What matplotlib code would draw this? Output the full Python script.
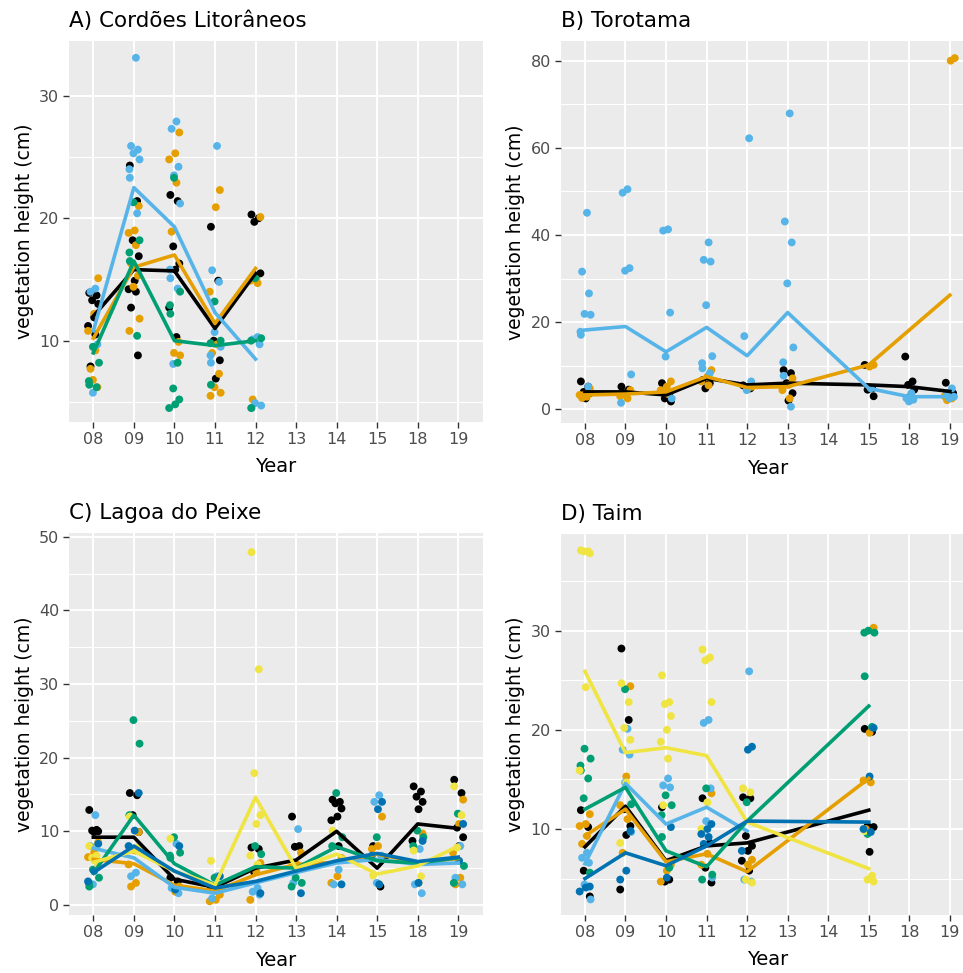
import matplotlib
matplotlib.use("Agg")
import matplotlib.pyplot as plt
import numpy as np

plt.rcParams['font.family'] = ['DejaVu Sans']

years = ["08", "09", "10", "11", "12", "13", "14", "15", "18", "19"]

# Okabe-Ito colours used for the groups
black, orange, skyblue, green, yellow, blue = "#000000", "#E69F00", "#56B4E9", "#009E73", "#F0E442", "#0072B2"

# ---------------- A) Cordões Litorâneos ----------------
a_black = {"08": [13.9, 13.7, 13.3, 13.0, 11.9, 11.2, 10.5, 7.9],
           "09": [24.3, 21.4, 18.2, 16.9, 14.9, 14.2, 14.0, 12.7, 8.8],
           "10": [21.9, 21.4, 17.7, 16.3, 15.8, 12.7, 10.3],
           "11": [19.3, 14.9, 10.0, 8.4, 6.9],
           "12": [20.3, 20.0, 19.7, 15.5, 15.3]}
a_orange = {"08": [15.1, 12.2, 10.8, 9.2, 7.7, 6.2, 6.8],
            "09": [21.0, 19.0, 18.8, 17.8, 16.3, 15.3, 14.4, 11.8, 10.8],
            "10": [27.0, 25.3, 24.8, 22.9, 18.9, 9.9, 9.0, 8.8],
            "11": [22.3, 20.9, 14.0, 9.7, 9.0, 7.3, 6.2, 5.75, 5.5],
            "12": [20.1, 15.0, 14.9, 14.7, 5.2]}
a_skyblue = {"08": [14.25, 14.0, 9.7, 5.75],
             "09": [33.1, 25.9, 25.6, 25.3, 24.8, 24.0, 23.3, 20.4],
             "10": [27.9, 27.3, 24.2, 23.5, 21.2, 15.8, 15.1, 14.25, 8.1],
             "11": [25.9, 15.75, 14.8, 10.7, 9.5, 8.8, 8.2],
             "12": [10.3, 10.1, 9.7, 4.9, 4.7, 4.5]}
a_green = {"08": [9.5, 8.2, 6.7, 6.4, 6.2],
           "09": [21.3, 18.2, 17.2, 16.5, 10.4],
           "10": [23.3, 14.0, 12.9, 12.2, 8.2, 6.1, 5.2, 4.8, 4.5],
           "11": [13.2, 10.0, 9.8, 6.4],
           "12": [15.1, 10.2, 10.0, 4.5]}
a_line_years = ["08", "09", "10", "11", "12"]
a_black_mean = [12.0, 15.8, 15.7, 11.0, 15.5]
a_orange_mean = [10.2, 16.0, 17.0, 11.4, 15.9]
a_skyblue_mean = [10.8, 22.5, 19.3, 12.3, 8.5]
a_green_mean = [9.0, 16.5, 10.0, 9.6, 10.0]

# ---------------- B) Torotama ----------------
b_black = {"08": [6.4, 5.2, 4.0, 3.7, 2.5],
           "09": [5.2, 4.5, 3.7],
           "10": [6.0, 3.7, 2.5, 1.8],
           "11": [6.7, 6.0, 4.8],
           "12": [5.5, 4.8],
           "13": [9.0, 8.3, 6.0, 3.7, 2.0],
           "15": [10.2, 4.8, 4.5, 3.0],
           "18": [12.1, 6.4, 5.6, 4.5, 2.9],
           "19": [6.1, 3.7]}
b_orange = {"08": [4.8, 3.6, 3.3, 2.9, 2.6],
            "09": [4.4, 3.3, 3.0, 2.5],
            "10": [6.4, 5.2, 4.4, 3.5],
            "11": [9.0, 7.5, 6.4, 5.5],
            "12": [5.2, 4.8],
            "13": [7.1, 5.6, 4.4, 2.5],
            "15": [10.2, 9.8],
            "19": [80.6, 80.0, 3.0, 2.5, 2.1]}
b_skyblue = {"08": [45.1, 31.6, 26.6, 21.9, 21.7, 17.8, 17.1, 5.2],
             "09": [50.5, 49.7, 32.4, 31.8, 8.0, 1.5],
             "10": [41.3, 41.0, 22.2, 12.1, 2.5],
             "11": [38.3, 34.3, 33.9, 23.9, 12.2, 10.6, 9.4, 8.3],
             "12": [62.2, 16.8, 6.4, 4.4],
             "13": [67.9, 43.1, 38.3, 28.9, 14.2, 10.8, 7.7, 0.6],
             "15": [4.8],
             "18": [3.7, 2.5, 2.2, 1.8],
             "19": [4.8, 3.7, 2.9, 2.5]}
b_black_years = ["08", "09", "10", "11", "12", "13", "15", "18", "19"]
b_black_mean = [4.0, 4.0, 3.3, 7.1, 5.6, 6.0, 5.6, 5.2, 4.1]
b_orange_years = ["08", "09", "10", "11", "12", "13", "15", "19"]
b_orange_mean = [3.3, 3.5, 4.0, 7.5, 5.0, 5.2, 10.2, 26.2]
b_skyblue_years = ["08", "09", "10", "11", "12", "13", "15", "18", "19"]
b_skyblue_mean = [18.2, 19.0, 13.2, 18.8, 12.3, 22.2, 4.8, 2.9, 2.9]

# ---------------- C) Lagoa do Peixe ----------------
c_black = {"08": [12.9, 10.2, 10.1, 10.0, 9.9],
           "09": [15.2, 14.9, 12.2, 9.9],
           "10": [3.7, 3.2],
           "11": [2.2],
           "12": [7.8, 7.6, 4.4],
           "13": [12.0, 8.0, 7.9],
           "14": [14.3, 14.0, 13.8, 13.1, 12.0, 11.5, 8.0],
           "15": [8.0, 2.5],
           "18": [16.1, 15.4, 14.7, 14.0, 13.0, 8.7],
           "19": [17.0, 15.2, 10.5, 9.2, 8.0]}
c_orange = {"08": [8.5, 7.1, 6.5],
            "09": [9.9, 7.4, 5.5, 3.0, 2.5],
            "10": [2.5, 1.8],
            "11": [1.4, 0.7, 0.5],
            "12": [5.7, 4.5, 0.7],
            "13": [7.1, 5.5],
            "14": [6.4, 3.9, 3.0],
            "15": [12.0, 8.0, 7.6, 2.8],
            "18": [9.7, 3.0],
            "19": [14.3, 11.0, 7.1, 3.7, 2.8]}
c_skyblue = {"08": [12.2, 8.0, 5.1, 2.8],
             "09": [4.4, 3.9],
             "10": [8.3, 2.3, 1.6],
             "11": [3.9, 0.9],
             "12": [2.3, 1.8, 1.4],
             "13": [10.3, 3.0],
             "14": [4.8, 2.8],
             "15": [14.9, 14.0, 6.7, 3.0],
             "18": [7.6, 2.8, 1.6],
             "19": [8.0, 3.7, 2.8]}
c_green = {"08": [4.8, 3.7, 3.0, 2.5],
           "09": [25.1, 21.9, 12.2],
           "10": [9.2, 7.1, 6.7, 6.4],
           "11": [3.7],
           "12": [8.0, 6.9],
           "13": [3.7, 3.0, 2.5],
           "14": [15.2, 9.2, 8.0],
           "15": [9.2],
           "18": [10.1, 9.2, 8.0],
           "19": [12.4, 5.3, 3.0]}
c_yellow = {"08": [8.0, 6.7, 6.4, 5.3],
            "09": [12.0, 7.8],
            "10": [9.0],
            "11": [6.0],
            "12": [47.9, 32.0, 17.9, 12.2, 11.0, 6.7, 5.5],
            "13": [5.5],
            "14": [10.1],
            "15": [4.0],
            "18": [7.4, 3.9],
            "19": [16.1, 12.2, 7.8]}
c_blue = {"08": [8.3, 4.6, 3.2],
          "09": [15.2, 10.1, 8.0],
          "10": [8.0, 2.1],
          "11": [3.9],
          "12": [1.6],
          "13": [1.6],
          "14": [2.8],
          "15": [14.0, 13.0, 6.7, 2.8],
          "18": [8.7, 3.0],
          "19": [11.0, 6.0]}
c_black_mean = [9.2, 9.2, 3.5, 2.4, 5.0, 6.1, 10.0, 5.0, 11.0, 10.4]
c_orange_mean = [6.2, 5.6, 2.7, 1.9, 4.1, 5.5, 5.8, 6.9, 5.8, 6.3]
c_skyblue_mean = [7.7, 6.4, 2.4, 1.6, 3.0, 4.4, 5.7, 6.2, 5.5, 5.7]
c_green_mean = [4.3, 12.2, 5.6, 2.7, 5.2, 5.0, 7.9, 6.0, 5.7, 6.4]
c_yellow_mean = [5.8, 7.3, 4.6, 2.7, 14.6, 5.0, 6.9, 4.2, 5.3, 8.0]
c_blue_mean = [4.4, 8.0, 4.6, 2.3, 3.2, 4.6, 6.0, 7.0, 5.9, 6.5]

# ---------------- D) Taim ----------------
d_black = {"08": [11.9, 10.2, 5.8, 3.2],
           "09": [28.2, 21.0, 12.0, 10.3, 9.4, 3.9],
           "10": [12.2, 4.9, 4.7],
           "11": [13.1, 8.6, 6.1, 4.6],
           "12": [13.2, 13.1, 9.3, 8.3, 7.8, 6.8, 5.8],
           "15": [20.1, 19.8, 10.3, 10.2, 7.7]}
d_orange = {"08": [11.5, 10.5, 10.3, 9.3, 8.5],
            "09": [24.4, 15.3, 12.4, 11.0, 7.6],
            "10": [6.4, 5.8, 4.7],
            "11": [13.6, 7.5, 6.4],
            "12": [6.9, 6.4],
            "15": [30.3, 19.7, 14.9, 14.7, 10.0]}
d_skyblue = {"08": [7.6, 7.1, 6.6, 4.4, 2.9],
             "09": [20.1, 18.0, 17.5, 14.7, 9.7],
             "10": [15.1, 14.4, 14.2],
             "11": [21.0, 20.7, 14.1, 10.8, 5.1],
             "12": [25.9, 4.9, 4.7]}
d_green = {"08": [18.1, 17.1, 16.4, 15.9, 15.1, 13.1, 5.6],
           "09": [24.1, 12.5],
           "10": [13.4, 12.4, 11.4, 9.2, 6.1],
           "11": [14.1, 5.4, 4.9],
           "12": [12.7],
           "15": [30.0, 29.8, 29.8, 25.4, 20.3, 9.5]}
d_yellow = {"08": [38.1, 38.0, 38.0, 37.8, 24.3, 15.9],
            "09": [24.7, 22.8, 20.2, 19.0, 14.7, 8.6],
            "10": [25.5, 22.8, 22.6, 21.4, 20.0, 18.8, 17.1, 12.4],
            "11": [28.1, 27.3, 27.0, 22.8, 12.7, 10.0],
            "12": [14.1, 13.7, 4.9, 4.6],
            "15": [9.8, 5.3, 4.9, 4.7]}
d_blue = {"08": [4.2, 4.1, 3.7],
          "09": [9.8, 5.8, 4.9],
          "10": [10.2, 5.1],
          "11": [10.5, 10.0, 9.5, 9.2, 8.5],
          "12": [18.3, 18.0, 7.8],
          "15": [20.2, 15.3, 10.0, 9.7]}
d_line_years = ["08", "09", "10", "11", "12", "15"]
d_black_mean = [8.2, 12.3, 6.8, 8.3, 8.6, 11.9]
d_orange_mean = [9.3, 12.0, 6.7, 7.5, 5.7, 15.1]
d_skyblue_years = ["08", "09", "10", "11", "12"]
d_skyblue_mean = [6.5, 14.6, 10.5, 12.2, 9.8]
d_green_mean = [12.0, 14.2, 7.8, 6.2, 10.8, 22.4]
d_yellow_mean = [25.9, 17.7, 18.2, 17.4, 10.7, 6.0]
d_blue_mean = [5.0, 7.6, 6.3, 8.3, 10.8, 10.7]

# horizontal jitter pattern (in category units)
jit = [-0.10, 0.08, -0.03, 0.12, 0.02, -0.13, 0.05, -0.07, 0.10, -0.01, 0.14, -0.11]

W, H = 963, 973
fig = plt.figure(figsize=(W / 100, H / 100), dpi=100)


def px_axes(left, top, right, bottom):
    return fig.add_axes([left / W, 1 - bottom / H, (right - left) / W, (bottom - top) / H])


def style(ax, title, ylim, major, minor):
    ax.set_facecolor("#EBEBEB")
    for s in ax.spines.values():
        s.set_visible(False)
    ax.set_xlim(-0.6, len(years) - 0.4)
    ax.set_ylim(*ylim)
    ax.set_xticks(range(len(years)))
    ax.set_xticklabels(years)
    ax.set_yticks(major)
    ax.set_yticks(minor, minor=True)
    ax.grid(True, which="major", color="white", lw=1.4)
    ax.grid(True, which="minor", axis="y", color="white", lw=0.8)
    ax.set_axisbelow(True)
    ax.tick_params(which="major", length=4.5, width=1.0, color="#333333",
                   labelcolor="#4D4D4D", labelsize=11.5, pad=2.5)
    ax.tick_params(which="minor", length=0)
    ax.set_title(title, loc="left", fontsize=15.5, pad=10)
    ax.set_xlabel("Year", fontsize=14)
    ax.set_ylabel("vegetation height (cm)", fontsize=13.5)
    ax.xaxis.set_label_coords(0.5, -0.093)
    ax.yaxis.set_label_coords(-0.085, 0.5)


def draw_points(ax, groups):
    for g, (pts, col) in enumerate(groups):
        for yr, vals in pts.items():
            xi = years.index(yr)
            xs = [xi + jit[(i + 3 * g) % len(jit)] for i in range(len(vals))]
            ax.scatter(xs, vals, s=32, color=col, edgecolors="none", zorder=2)


def draw_lines(ax, lines):
    for yrs, vals, col in lines:
        ax.plot([years.index(y) for y in yrs], vals, color=col, lw=2.6, zorder=3,
                solid_joinstyle="round")


# A
axA = px_axes(69, 41, 482.6, 422)
style(axA, "A) Cordões Litorâneos", (3.36, 34.47), [10, 20, 30], [5, 15, 25])
draw_points(axA, [(a_black, black), (a_orange, orange), (a_skyblue, skyblue), (a_green, green)])
draw_lines(axA, [(a_line_years, a_black_mean, black), (a_line_years, a_orange_mean, orange),
                 (a_line_years, a_skyblue_mean, skyblue), (a_line_years, a_green_mean, green)])

# B
axB = px_axes(560.6, 41, 974.2, 423)
style(axB, "B) Torotama", (-3.14, 84.52), [0, 20, 40, 60, 80], [10, 30, 50, 70])
draw_points(axB, [(b_black, black), (b_orange, orange), (b_skyblue, skyblue)])
draw_lines(axB, [(b_black_years, b_black_mean, black), (b_orange_years, b_orange_mean, orange),
                 (b_skyblue_years, b_skyblue_mean, skyblue)])

# C
axC = px_axes(69, 533, 482.6, 915)
style(axC, "C) Lagoa do Peixe", (-1.36, 50.5), [0, 10, 20, 30, 40, 50], [5, 15, 25, 35, 45])
draw_points(axC, [(c_black, black), (c_orange, orange), (c_skyblue, skyblue),
                  (c_green, green), (c_yellow, yellow), (c_blue, blue)])
draw_lines(axC, [(years, c_black_mean, black), (years, c_orange_mean, orange),
                 (years, c_skyblue_mean, skyblue), (years, c_green_mean, green),
                 (years, c_yellow_mean, yellow), (years, c_blue_mean, blue)])

# D
axD = px_axes(560.6, 534, 974.2, 915)
style(axD, "D) Taim", (1.33, 39.75), [10, 20, 30], [5, 15, 25, 35])
draw_points(axD, [(d_black, black), (d_orange, orange), (d_skyblue, skyblue),
                  (d_green, green), (d_yellow, yellow), (d_blue, blue)])
draw_lines(axD, [(d_line_years, d_black_mean, black), (d_line_years, d_orange_mean, orange),
                 (d_skyblue_years, d_skyblue_mean, skyblue), (d_line_years, d_green_mean, green),
                 (d_line_years, d_yellow_mean, yellow), (d_line_years, d_blue_mean, blue)])

fig.savefig("out.png", dpi=100)
